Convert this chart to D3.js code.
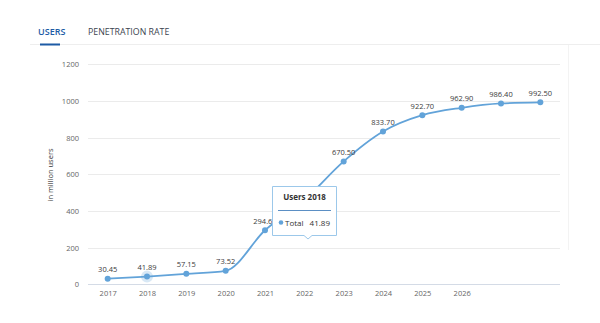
<!DOCTYPE html>
<html>
<head>
<meta charset="utf-8">
<script src="https://cdn.jsdelivr.net/npm/d3@7"></script>
<style>
  body { margin: 0; background: #fff; }
  svg { display: block; font-family: "Open Sans", sans-serif; }
</style>
</head>
<body>
<div id="vis"></div>
<script>
// chart data
var years = ["2017", "2018", "2019", "2020", "2021", "2022", "2023", "2024", "2025", "2026", "2027", "2028"];
var users = [30.45, 41.89, 57.15, 73.52, 294.6, 460, 670.5, 833.7, 922.7, 962.9, 986.4, 992.5];
var xTickLabels = ["2017", "2018", "2019", "2020", "2021", "2022", "2023", "2024", "2025", "2026"];
var yTicks = [0, 200, 400, 600, 800, 1000, 1200];
var tabs = ["USERS", "PENETRATION RATE"];
var hoverIndex = 1;
// label of 2022 sits under the tooltip in the reference
var hiddenLabel = "2022";

var width = 600, height = 323;
var lineColor = "#62a3d9";

var svg = d3.select("#vis").append("svg")
    .attr("width", width).attr("height", height);

// tabs
svg.append("line")
    .attr("x1", 30).attr("x2", width).attr("y1", 44.5).attr("y2", 44.5)
    .attr("stroke", "#eeeeee");
svg.append("text").text(tabs[0])
    .attr("x", 38).attr("y", 35)
    .attr("font-size", 9).attr("font-weight", 600).attr("fill", "#1d5ba5");
svg.append("rect")
    .attr("x", 40).attr("y", 43.5).attr("width", 20).attr("height", 2)
    .attr("fill", "#1d5ba5");
svg.append("text").text(tabs[1])
    .attr("x", 88).attr("y", 35)
    .attr("font-size", 8.8).attr("font-weight", 500).attr("fill", "#3c4450");

// faint panel edge on right
svg.append("line")
    .attr("x1", 568.5).attr("x2", 568.5).attr("y1", 45).attr("y2", 250)
    .attr("stroke", "#f3f3f3");

// scales
var x = d3.scalePoint().domain(years).range([88, 560]).padding(0.5);
var y = d3.scaleLinear().domain([0, 1200]).range([284.3, 64.3]);

// grid
var chartGroup = svg.append("g");
chartGroup.selectAll(".grid")
    .data(yTicks)
    .enter().append("line")
    .attr("x1", 88).attr("x2", 560)
    .attr("y1", function (d) { return Math.round(y(d)) + 0.5; })
    .attr("y2", function (d) { return Math.round(y(d)) + 0.5; })
    .attr("stroke", function (d) { return d == 0 ? "#d4dbe6" : "#ebebeb"; });

// y axis labels
var yAxis = d3.axisLeft(y).tickValues(yTicks).tickSize(0).tickPadding(9).tickFormat(d3.format("d"));
var yg = svg.append("g").attr("transform", "translate(88,0)").call(yAxis);
yg.select(".domain").remove();
yg.selectAll("text").attr("font-size", 7.5).attr("fill", "#666").attr("font-family", "Open Sans, sans-serif");

// x axis labels
var xAxis = d3.axisBottom(x).tickSize(0).tickPadding(6)
    .tickFormat(function (d) { return xTickLabels.indexOf(d) >= 0 ? d : ""; });
var xg = svg.append("g").attr("transform", "translate(0,284.3)").call(xAxis);
xg.select(".domain").remove();
xg.selectAll("text").attr("font-size", 7.5).attr("fill", "#666").attr("font-family", "Open Sans, sans-serif");

// y title
svg.append("text").text("in million users")
    .attr("transform", "translate(53,175) rotate(-90)")
    .attr("text-anchor", "middle")
    .attr("font-size", 7.5).attr("fill", "#333");

// line
var line = d3.line()
    .x(function (d, i) { return x(years[i]); })
    .y(function (d) { return y(d); })
    .curve(d3.curveMonotoneX);

chartGroup.append("path")
    .datum(users)
    .attr("d", line)
    .attr("fill", "none")
    .attr("stroke", lineColor)
    .attr("stroke-width", 1.8);

// hover halo
chartGroup.append("circle")
    .attr("cx", x(years[hoverIndex])).attr("cy", y(users[hoverIndex]))
    .attr("r", 6).attr("fill", lineColor).attr("opacity", 0.25);

chartGroup.selectAll(".dots")
    .data(users)
    .enter().append("circle")
    .attr("cx", function (d, i) { return x(years[i]); })
    .attr("cy", function (d) { return y(d); })
    .attr("r", 3)
    .attr("fill", lineColor);

// data labels
var labelData = users.map(function (d, i) { return { year: years[i], value: d }; })
    .filter(function (d) { return d.year != hiddenLabel; });

chartGroup.selectAll(".lbl")
    .data(labelData)
    .enter().append("text")
    .attr("x", function (d) { return x(d.year); })
    .attr("y", function (d) { return y(d.value) - 6.5; })
    .attr("text-anchor", "middle")
    .attr("font-size", 7.5)
    .attr("fill", "#3a3a3a")
    .text(function (d) { return d3.format(".2f")(d.value); });

// tooltip
var tip = svg.append("g").attr("transform", "translate(272,186)");
tip.append("path")
    .attr("d", "M0.5,0.5 H64.5 V49.5 H40 L36,53 L32,49.5 H0.5 Z")
    .attr("fill", "#fff")
    .attr("stroke", "#9cc8ea");
tip.append("text").text("Users " + years[hoverIndex])
    .attr("x", 32.5).attr("y", 14)
    .attr("text-anchor", "middle")
    .attr("font-size", 8).attr("font-weight", 700).attr("fill", "#333");
tip.append("line")
    .attr("x1", 6).attr("x2", 59).attr("y1", 24.5).attr("y2", 24.5)
    .attr("stroke", "#5b8fc4");
tip.append("circle")
    .attr("cx", 9).attr("cy", 36.5).attr("r", 2.3).attr("fill", lineColor);
tip.append("text").text("Total")
    .attr("x", 13).attr("y", 39.5)
    .attr("font-size", 8).attr("fill", "#333");
tip.append("text").text(d3.format(".2f")(users[hoverIndex]))
    .attr("x", 58).attr("y", 39.5)
    .attr("text-anchor", "end")
    .attr("font-size", 8).attr("fill", "#333");
</script>
</body>
</html>
